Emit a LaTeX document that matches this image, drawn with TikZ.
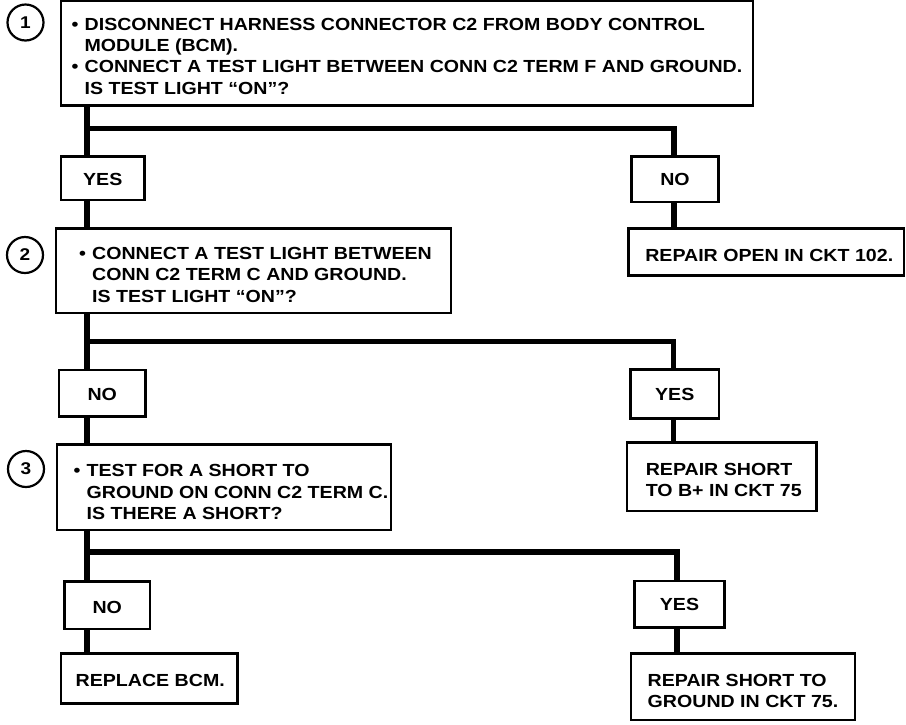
\documentclass[tikz,border=0pt]{standalone}
\usepackage{fontspec}
\newfontfamily\hv{Liberation Sans}[FakeStretch=1.12]
\newcommand{\bul}{\makebox[13pt][l]{•}}
\newcommand{\ind}{\hspace*{13pt}}
\begin{document}
\begin{tikzpicture}[x=1pt,y=-1pt,
  box/.style={draw, line width=2.8pt, inner sep=0pt, outer sep=0pt, fill=white},
  txt/.style={inner sep=0pt, align=left,
    font=\hv\bfseries\fontsize{17.5}{21.3}\selectfont},
  num/.style={draw, circle, line width=2.2pt, minimum size=36pt, inner sep=0pt,
    font=\hv\bfseries\fontsize{17}{17}\selectfont},
  conn/.style={line width=5.5pt},
]
\fill[white] (0,0) rectangle (906,724);
\useasboundingbox (0,0) rectangle (906,724);

% step circles
\node[num] (c1) at (25.5,22.5) {1};
\node[num] (c2) at (25,255) {2};
\node[num] (c3) at (26,469) {3};

% question boxes
\node[box, minimum width=692pt, minimum height=104.5pt] (b1) at (407,53.25) {};
\node[txt] (b1t) at ([yshift=-3pt]b1.center) {\bul DISCONNECT HARNESS CONNECTOR C2 FROM BODY CONTROL\\\ind MODULE (BCM).\\\bul CONNECT A TEST LIGHT BETWEEN CONN C2 TERM F AND GROUND.\\\ind IS TEST LIGHT “ON”?};
\node[box, minimum width=395pt, minimum height=84.5pt] (b2) at (253.5,270.75) {};
\node[txt] (b2t) at ([xshift=2pt,yshift=-4pt]b2.center) {\bul CONNECT A TEST LIGHT BETWEEN\\\ind CONN C2 TERM C AND GROUND.\\\ind IS TEST LIGHT “ON”?};
\node[box, minimum width=334pt, minimum height=85.5pt] (b3) at (224,487.25) {};
\node[txt] (b3t) at ([xshift=7pt,yshift=-5pt]b3.center) {\bul TEST FOR A SHORT TO\\\ind GROUND ON CONN C2 TERM C.\\\ind IS THERE A SHORT?};

% answer boxes
\node[box, minimum width=83.5pt, minimum height=43.5pt] (y1) at (102.75,178.25) {};
\node[txt] (y1t) at ([yshift=-1pt]y1.center) {YES};
\node[box, minimum width=87pt, minimum height=45.5pt] (n1) at (675,179.25) {};
\node[txt] (n1t) at (n1.center) {NO};
\node[box, minimum width=86.5pt, minimum height=46.5pt] (n2) at (102.25,393.25) {};
\node[txt] (n2t) at ([yshift=-1pt]n2.center) {NO};
\node[box, minimum width=88.5pt, minimum height=49pt] (y2) at (674.75,394) {};
\node[txt] (y2t) at (y2.center) {YES};
\node[box, minimum width=85.5pt, minimum height=47.5pt] (n3) at (107.25,605.25) {};
\node[txt] (n3t) at ([yshift=-2pt]n3.center) {NO};
\node[box, minimum width=90pt, minimum height=46.5pt] (y3) at (679.5,604.25) {};
\node[txt] (y3t) at (y3.center) {YES};

% result boxes
\node[box, minimum width=275.5pt, minimum height=47pt] (r1) at (766.25,252) {};
\node[txt] (r1t) at ([xshift=3pt,yshift=-3pt]r1.center) {REPAIR OPEN IN CKT 102.};
\node[box, minimum width=189.5pt, minimum height=68.5pt] (r2) at (721.75,476.75) {};
\node[txt] (r2t) at ([xshift=2pt,yshift=-3pt]r2.center) {REPAIR SHORT\\TO B+ IN CKT 75};
\node[box, minimum width=176.5pt, minimum height=50pt] (r4) at (149.25,678.5) {};
\node[txt] (r4t) at ([xshift=1pt,yshift=-1.5pt]r4.center) {REPLACE BCM.};
\node[box, minimum width=224pt, minimum height=66.5pt] (r3) at (743,686.75) {};
\node[txt] (r3t) at ([yshift=-4pt]r3.center) {REPAIR SHORT TO\\GROUND IN CKT 75.};

% trunk and branch points
\coordinate (t) at (87,0);
\coordinate (j1) at (87,128.5);
\coordinate (j2) at (87,341.5);
\coordinate (j3) at (87,552);
\coordinate (v1) at (674,0);
\coordinate (v2) at (673.5,0);
\coordinate (v3) at (677,0);

\draw[conn] (b1.south -| t) -- (y1.north -| t);
\draw[conn] (y1.south -| t) -- (b2.north -| t);
\draw[conn] (b2.south -| t) -- (n2.north -| t);
\draw[conn] (n2.south -| t) -- (b3.north -| t);
\draw[conn] (b3.south -| t) -- (n3.north -| t);
\draw[conn] (n3.south -| t) -- (r4.north -| t);

\draw[conn] (j1) -| (n1.north -| v1);
\draw[conn] (n1.south -| v1) -- (r1.north -| v1);
\draw[conn] (j2) -| (y2.north -| v2);
\draw[conn] (y2.south -| v2) -- (r2.north -| v2);
\draw[conn] (j3) -| (y3.north -| v3);
\draw[conn] (y3.south -| v3) -- (r3.north -| v3);
\end{tikzpicture}
\end{document}
